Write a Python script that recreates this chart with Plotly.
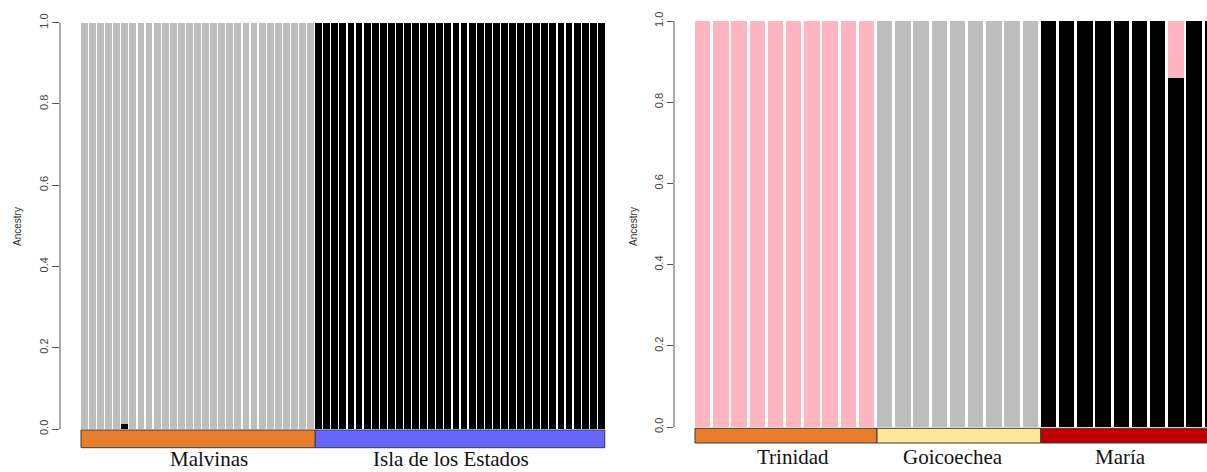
import plotly.graph_objects as go

# ---- Data: admixture proportions per individual (K clusters) ----
# Left panel: Malvinas (29 individuals) and Isla de los Estados (36 individuals)
left_groups = ["Malvinas", "Isla de los Estados"]
left_group_sizes = [29, 36]
left_black = [
    # Malvinas
    0, 0, 0, 0, 0, 0.012, 0, 0, 0, 0, 0, 0, 0, 0, 0, 0, 0, 0, 0, 0,
    0, 0, 0, 0, 0, 0, 0, 0, 0,
    # Isla de los Estados
    1, 1, 1, 1, 1, 1, 1, 1, 1, 1, 1, 1, 1, 1, 1, 1, 1, 1, 1, 1,
    1, 1, 1, 1, 1, 1, 1, 1, 1, 1, 1, 1, 1, 1, 1, 1,
]
left_gray = [
    # Malvinas
    1, 1, 1, 1, 1, 0.988, 1, 1, 1, 1, 1, 1, 1, 1, 1, 1, 1, 1, 1, 1,
    1, 1, 1, 1, 1, 1, 1, 1, 1,
    # Isla de los Estados
    0, 0, 0, 0, 0, 0, 0, 0, 0, 0, 0, 0, 0, 0, 0, 0, 0, 0, 0, 0,
    0, 0, 0, 0, 0, 0, 0, 0, 0, 0, 0, 0, 0, 0, 0, 0,
]

# Right panel: Trinidad (10), Goicoechea (9), María (10)
right_groups = ["Trinidad", "Goicoechea", "María"]
right_group_sizes = [10, 9, 10]
right_black = [
    0, 0, 0, 0, 0, 0, 0, 0, 0, 0,
    0, 0, 0, 0, 0, 0, 0, 0, 0,
    1, 1, 1, 1, 1, 1, 1, 0.86, 1, 1,
]
right_gray = [
    0, 0, 0, 0, 0, 0, 0, 0, 0, 0,
    1, 1, 1, 1, 1, 1, 1, 1, 1,
    0, 0, 0, 0, 0, 0, 0, 0, 0, 0,
]
right_pink = [
    1, 1, 1, 1, 1, 1, 1, 1, 1, 1,
    0, 0, 0, 0, 0, 0, 0, 0, 0,
    0, 0, 0, 0, 0, 0, 0, 0.14, 0, 0,
]

y_ticks = [0.0, 0.2, 0.4, 0.6, 0.8, 1.0]
y_tick_labels = ["0.0", "0.2", "0.4", "0.6", "0.8", "1.0"]

# ---- Styling ----
W, H = 1207, 472
GAP = 0.15
C_BLACK = "#000000"
C_GRAY = "#BEBEBE"
C_PINK = "#FFB6C1"
left_strip_colors = ["#E87D2E", "#6666FF"]
right_strip_colors = ["#E87D2E", "#FFE699", "#C00000"]
label_offsets_left = [1.4, -1.1]          # nudges of the group names, in bar units
label_offsets_right = [0.45, -0.27, -0.55]
SANS = "Liberation Sans, Arial, Helvetica, sans-serif"
SERIF = "Liberation Serif, Times New Roman, serif"

fig = go.Figure()


def add_bars(values, color, xa, ya):
    fig.add_trace(go.Bar(
        x=list(range(len(values))), y=values,
        marker=dict(color=color, line=dict(width=0)),
        xaxis=xa, yaxis=ya, showlegend=False, hoverinfo="skip",
    ))


add_bars(left_black, C_BLACK, "x", "y")
add_bars(left_gray, C_GRAY, "x", "y")
add_bars(right_black, C_BLACK, "x2", "y2")
add_bars(right_gray, C_GRAY, "x2", "y2")
add_bars(right_pink, C_PINK, "x2", "y2")

# Pixel geometry of the two panels
L_AXIS, L_BAR0, L_END, L_PX = 60, 81, 615, 8.077
R_AXIS, R_BAR0, R_END, R_PX = 674, 695, W, 18.2
L_ZERO, L_ONE = 429, 22.7
R_ZERO, R_ONE = 427, 21


def x_range(axis_px, bar0_px, end_px, px_per_unit):
    lo = (-0.5 + GAP / 2) - (bar0_px - axis_px) / px_per_unit
    return [lo, lo + (end_px - axis_px) / px_per_unit]


def y_range(zero_px, one_px):
    unit = zero_px - one_px
    return [-(H - zero_px) / unit, 1 + one_px / unit]


def px_to_y(py, zero_px, one_px):
    return (zero_px - py) / (zero_px - one_px)


xaxis_common = dict(showgrid=False, zeroline=False, showticklabels=False,
                    ticks="", showline=False)
yaxis_common = dict(showgrid=False, zeroline=False, showline=False,
                    tickmode="array", tickvals=y_ticks, ticktext=y_tick_labels,
                    tickangle=-90, ticks="outside", tickcolor="#555555",
                    tickwidth=1, tickfont=dict(family=SANS, size=11, color="#444444"))

fig.update_layout(
    width=W, height=H,
    margin=dict(l=0, r=0, t=0, b=0),
    paper_bgcolor="white", plot_bgcolor="white",
    barmode="stack", bargap=GAP,
    xaxis=dict(domain=[L_AXIS / W, L_END / W],
               range=x_range(L_AXIS, L_BAR0, L_END, L_PX), **xaxis_common),
    yaxis=dict(domain=[0, 1], range=y_range(L_ZERO, L_ONE), anchor="x",
               ticklen=7, **yaxis_common),
    xaxis2=dict(domain=[R_AXIS / W, R_END / W], anchor="y2",
                range=x_range(R_AXIS, R_BAR0, R_END, R_PX), **xaxis_common),
    yaxis2=dict(domain=[0, 1], range=y_range(R_ZERO, R_ONE), anchor="x2",
                ticklen=6, **yaxis_common),
)

shapes = []
annotations = []

# Vertical axis lines spanning 0..1 only
for xref, yref in (("x domain", "y"), ("x2 domain", "y2")):
    shapes.append(dict(type="line", xref=xref, yref=yref, x0=0, x1=0, y0=0, y1=1,
                       line=dict(color="#555555", width=1)))


def group_strips(sizes, colors, names, offsets, xref, yref, y_lo, y_hi, y_text,
                 runs_off_edge):
    start = 0
    n_total = sum(sizes)
    for size, color, name, off in zip(sizes, colors, names, offsets):
        x0 = start - 0.5 + GAP / 2
        x1 = start + size - 0.5 + GAP / 2
        if start + size == n_total:
            x1 = start + size + 1 if runs_off_edge else start + size - 0.5 - GAP / 2
        shapes.append(dict(type="rect", xref=xref, yref=yref, x0=x0, x1=x1,
                           y0=y_lo, y1=y_hi, fillcolor=color,
                           line=dict(color="#3a3a3a", width=1), layer="above"))
        annotations.append(dict(xref=xref, yref=yref,
                                x=start + (size - 1) / 2 + off, y=y_text,
                                text=name, showarrow=False,
                                font=dict(family=SERIF, size=21, color="#111111"),
                                xanchor="center", yanchor="middle"))
        start += size


group_strips(left_group_sizes, left_strip_colors, left_groups, label_offsets_left,
             "x", "y",
             px_to_y(447.7, L_ZERO, L_ONE), px_to_y(430, L_ZERO, L_ONE),
             px_to_y(459, L_ZERO, L_ONE), False)
group_strips(right_group_sizes, right_strip_colors, right_groups, label_offsets_right,
             "x2", "y2",
             px_to_y(443, R_ZERO, R_ONE), px_to_y(428.3, R_ZERO, R_ONE),
             px_to_y(457, R_ZERO, R_ONE), True)

# "Ancestry" axis titles
for xpx, yref, zero_px, one_px in ((17, "y", L_ZERO, L_ONE), (633, "y2", R_ZERO, R_ONE)):
    annotations.append(dict(xref="paper", yref=yref, x=xpx / W,
                            y=px_to_y(227, zero_px, one_px),
                            text="Ancestry", textangle=-90, showarrow=False,
                            font=dict(family=SANS, size=10, color="#333333"),
                            xanchor="center", yanchor="middle"))

fig.update_layout(shapes=shapes, annotations=annotations)

fig.write_html("out.html")
